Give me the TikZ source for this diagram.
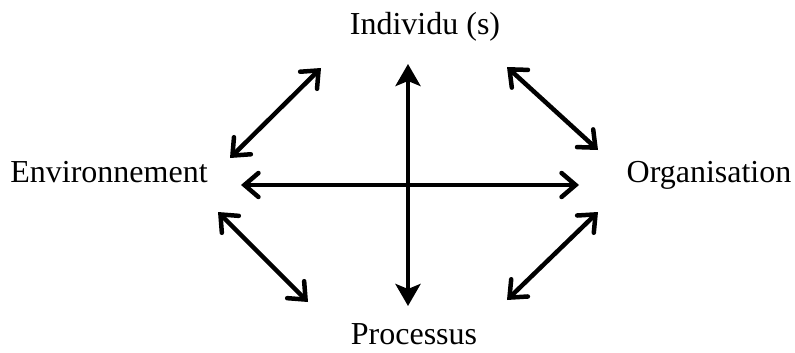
\documentclass[tikz,border=0pt]{standalone}
\usepackage{fontspec}
\setmainfont{Liberation Serif}
\usetikzlibrary{arrows.meta}
\begin{document}
\begin{tikzpicture}[x=1pt,y=-1pt,
  lbl/.style={font=\fontsize{32}{38}\selectfont, inner sep=0pt, anchor=base},
  link/.style={line width=4.5pt, line cap=round, {Straight Barb[length=14pt,width=24pt,line cap=round]}-{Straight Barb[length=14pt,width=24pt,line cap=round]}},
  vlink/.style={line width=4.5pt, {Stealth[length=22pt,width=25pt,inset=5pt]}-{Stealth[length=22pt,width=25pt,inset=5pt]}}]
\useasboundingbox (0,0) rectangle (795,353);
\node[lbl] (ind) at (425,35) {Individu (s)};
\node[lbl] (env) at (109,182) {Environnement};
\node[lbl] (org) at (709,182) {Organisation};
\node[lbl] (pro) at (414,344) {Processus};
\coordinate (vt) at (408,64);
\coordinate (vb) at (408,306);
\coordinate (hl) at (241,185);
\coordinate (hr) at (579,185);
\coordinate (ula) at (230,158);
\coordinate (ulb) at (321,68);
\coordinate (ura) at (507,67);
\coordinate (urb) at (598,150);
\coordinate (lla) at (218,212);
\coordinate (llb) at (308,302);
\coordinate (lra) at (598,212);
\coordinate (lrb) at (507,300);
\draw[vlink] (vt) -- (vb);
\draw[link] (hl) -- (hr);
\draw[link] (ula) -- (ulb);
\draw[link] (ura) -- (urb);
\draw[link] (lla) -- (llb);
\draw[link] (lra) -- (lrb);
\end{tikzpicture}
\end{document}
